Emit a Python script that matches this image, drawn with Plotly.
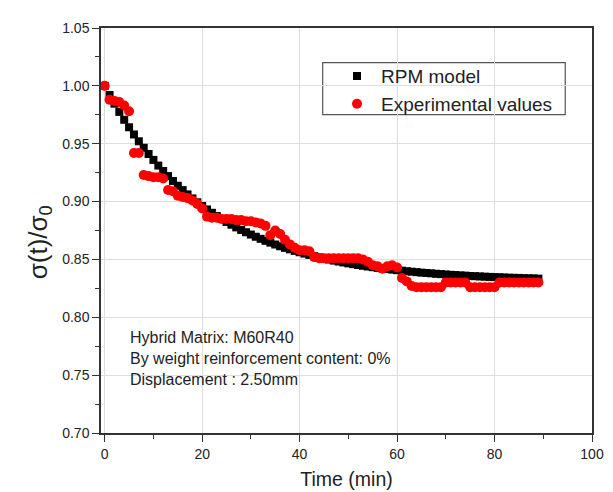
import plotly.graph_objects as go

# RPM model (black squares), one point per minute
model_t = list(range(0, 90))
model_y = [1.0000, 0.9921, 0.9846, 0.9775, 0.9707, 0.9642, 0.9580, 0.9521, 0.9465, 0.9411,
           0.9360, 0.9311, 0.9264, 0.9220, 0.9178, 0.9137, 0.9099, 0.9062, 0.9027, 0.8994,
           0.8962, 0.8932, 0.8903, 0.8875, 0.8849, 0.8824, 0.8800, 0.8777, 0.8755, 0.8735,
           0.8715, 0.8696, 0.8678, 0.8661, 0.8645, 0.8629, 0.8614, 0.8600, 0.8587, 0.8574,
           0.8562, 0.8550, 0.8539, 0.8528, 0.8518, 0.8508, 0.8499, 0.8490, 0.8482, 0.8474,
           0.8466, 0.8459, 0.8452, 0.8445, 0.8439, 0.8433, 0.8427, 0.8422, 0.8417, 0.8412,
           0.8407, 0.8403, 0.8398, 0.8394, 0.8390, 0.8386, 0.8383, 0.8380, 0.8376, 0.8373,
           0.8370, 0.8367, 0.8365, 0.8362, 0.8360, 0.8357, 0.8355, 0.8353, 0.8351, 0.8349,
           0.8347, 0.8346, 0.8344, 0.8342, 0.8341, 0.8340, 0.8338, 0.8337, 0.8336, 0.8334]

# Experimental values (red circles)
exp_t = list(range(0, 90))
exp_y = [1.000, 0.988, 0.987, 0.986, 0.983, 0.978, 0.942, 0.942, 0.923, 0.922,
         0.921, 0.921, 0.920, 0.910, 0.909, 0.905, 0.904, 0.903, 0.901, 0.898,
         0.894, 0.887, 0.886, 0.886, 0.885, 0.885, 0.885, 0.884, 0.884, 0.883,
         0.883, 0.882, 0.881, 0.879, 0.871, 0.875, 0.872, 0.867, 0.863, 0.860,
         0.858, 0.858, 0.857, 0.852, 0.851, 0.851, 0.851, 0.851, 0.851, 0.851,
         0.851, 0.851, 0.851, 0.850, 0.848, 0.845, 0.844, 0.842, 0.844, 0.845,
         0.843, 0.834, 0.831, 0.827, 0.826, 0.826, 0.826, 0.826, 0.826, 0.826,
         0.830, 0.830, 0.830, 0.830, 0.830, 0.826, 0.826, 0.826, 0.826, 0.826,
         0.826, 0.830, 0.830, 0.830, 0.830, 0.830, 0.830, 0.830, 0.830, 0.830]

x_ticks = [0, 20, 40, 60, 80, 100]
y_ticks = [0.70, 0.75, 0.80, 0.85, 0.90, 0.95, 1.00, 1.05]
y_tick_labels = ["0.70", "0.75", "0.80", "0.85", "0.90", "0.95", "1.00", "1.05"]

info_lines = ["Hybrid Matrix: M60R40",
              "By weight reinforcement content: 0%",
              "Displacement : 2.50mm"]

FONT = "Liberation Sans, Arial, sans-serif"
TXT = "#222222"

fig = go.Figure()
fig.add_trace(go.Scatter(x=model_t, y=model_y, mode="markers", name="RPM model",
                         marker=dict(symbol="square", size=8, color="black")))
fig.add_trace(go.Scatter(x=exp_t, y=exp_y, mode="markers", name="Experimental values",
                         marker=dict(symbol="circle", size=10, color="red")))

axis_common = dict(showline=True, linecolor="#333333", linewidth=1.5, mirror=True,
                   showgrid=True, gridcolor="#dddddd", gridwidth=1,
                   ticks="outside", ticklen=7, tickwidth=1.2, tickcolor="#333333",
                   zeroline=False,
                   tickfont=dict(family=FONT, size=14, color=TXT))

fig.update_xaxes(range=[-0.76, 100], tickvals=x_ticks,
                 minor=dict(dtick=10, tick0=0, ticks="outside", ticklen=4, tickcolor="#333333", showgrid=False),
                 title=dict(text="Time (min)", font=dict(family=FONT, size=19.5, color=TXT), standoff=12),
                 **axis_common)
fig.update_yaxes(range=[0.70, 1.05], tickvals=y_ticks, ticktext=y_tick_labels,
                 minor=dict(dtick=0.025, tick0=0.70, ticks="outside", ticklen=4, tickcolor="#333333", showgrid=False),
                 **axis_common)

# y-axis title
fig.add_annotation(xref="paper", yref="paper", x=-0.125, y=0.47, xanchor="center", yanchor="middle",
                   text="σ(t)/σ<sub>0</sub>", textangle=-90, showarrow=False,
                   font=dict(family=FONT, size=26, color=TXT))

fig.add_annotation(xref="paper", yref="paper", x=0.055, y=0.262, xanchor="left", yanchor="top",
                   text="<br>".join(info_lines), showarrow=False, align="left",
                   font=dict(family=FONT, size=16, color=TXT))

# legend frame
fig.add_shape(type="rect", xref="paper", yref="paper", x0=0.4515, x1=0.9455, y0=0.786, y1=0.9145,
              line=dict(color="#555555", width=1.2), fillcolor="white", layer="below")

fig.update_layout(width=613, height=492, margin=dict(l=93, r=29, t=15, b=67),
                  plot_bgcolor="white", paper_bgcolor="white",
                  legend=dict(x=0.4725, y=0.928, xanchor="left", yanchor="top",
                              itemwidth=38,
                              bgcolor="rgba(0,0,0,0)", borderwidth=0,
                              font=dict(family=FONT, size=19, color=TXT)),
                  showlegend=True)

fig.write_html("out.html")
